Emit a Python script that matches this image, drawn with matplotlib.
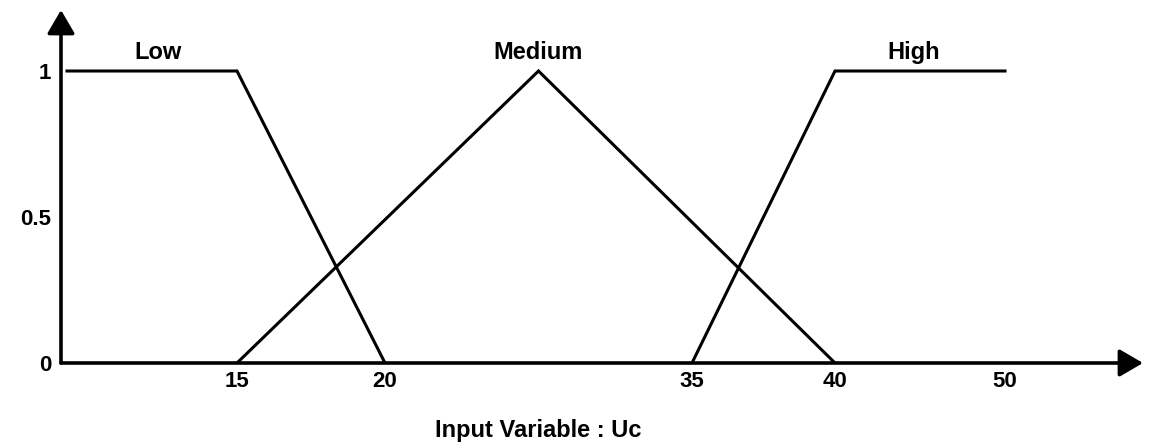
import numpy as np
import matplotlib.pyplot as plt

# membership functions of the input variable Uc
low_x = [0, 15, 20]
low_y = [1, 1, 0]
medium_x = [15, 27.5, 40]
medium_y = [0, 1, 0]
high_x = [35, 40, 50]
high_y = [0, 1, 1]

set_names = ["Low", "Medium", "High"]
x_ticks = [15, 20, 35, 40, 50]
y_ticks = [0, 0.5, 1]
y_tick_labels = ["0", "0.5", "1"]

# the original axis is hand drawn and not evenly spaced, so map it piecewise
data_knots = np.array([-100, -0.5, 0, 15, 20, 35, 40, 50, 58, 200])
px_knots = np.array([61 - 99.5 * 12, 61, 67, 237, 385, 692, 835, 1005, 1143, 1143 + 142 * 17])


def forward(x):
    return np.interp(x, data_knots, px_knots)


def inverse(p):
    return np.interp(p, px_knots, data_knots)


plt.rcParams['font.family'] = 'Liberation Sans'
plt.rcParams['font.weight'] = 'bold'

W, H = 1158, 445
fig = plt.figure(figsize=(W / 100, H / 100), dpi=100)
ax = fig.add_axes([61 / W, 82 / H, (1143 - 61) / W, 353 / H])
ax.set_xscale('function', functions=(forward, inverse))
ax.set_xlim(-0.5, 58)
ax.set_ylim(0, 353 / 292)

lw = 2.2
ax.plot(low_x, low_y, color='black', lw=lw, solid_joinstyle='miter')
ax.plot(medium_x, medium_y, color='black', lw=lw, solid_joinstyle='miter')
ax.plot(high_x, high_y, color='black', lw=lw, solid_joinstyle='miter')

# axes drawn as arrows
for sp in ax.spines.values():
    sp.set_visible(False)
arrow = dict(arrowstyle='-|>,head_length=0.72,head_width=0.42', color='black', lw=2.6,
             shrinkA=0, shrinkB=0, mutation_scale=20)
ax.annotate('', xy=(58, 0), xytext=(-0.5, 0), arrowprops=arrow, annotation_clip=False)
ax.annotate('', xy=(-0.5, 353 / 292), xytext=(-0.5, 0), arrowprops=arrow, annotation_clip=False)

ax.set_xticks(x_ticks)
ax.set_xticklabels([str(t) for t in x_ticks], fontsize=16, fontweight='bold')
ax.set_yticks(y_ticks)
ax.set_yticklabels(y_tick_labels, fontsize=16, fontweight='bold')
ax.tick_params(axis='both', length=0)
ax.tick_params(axis='x', pad=6)
ax.tick_params(axis='y', pad=7)

label_x = [8.0, 27.5, 44.6]
for name, lx in zip(set_names, label_x):
    ax.text(lx, 1.062, name, ha='center', va='center', fontsize=17, fontweight='bold')

fig.text(538 / W, 1 - 431 / H, "Input Variable : Uc", ha='center', va='center',
         fontsize=17, fontweight='bold')

fig.savefig('out.png', dpi=100)
